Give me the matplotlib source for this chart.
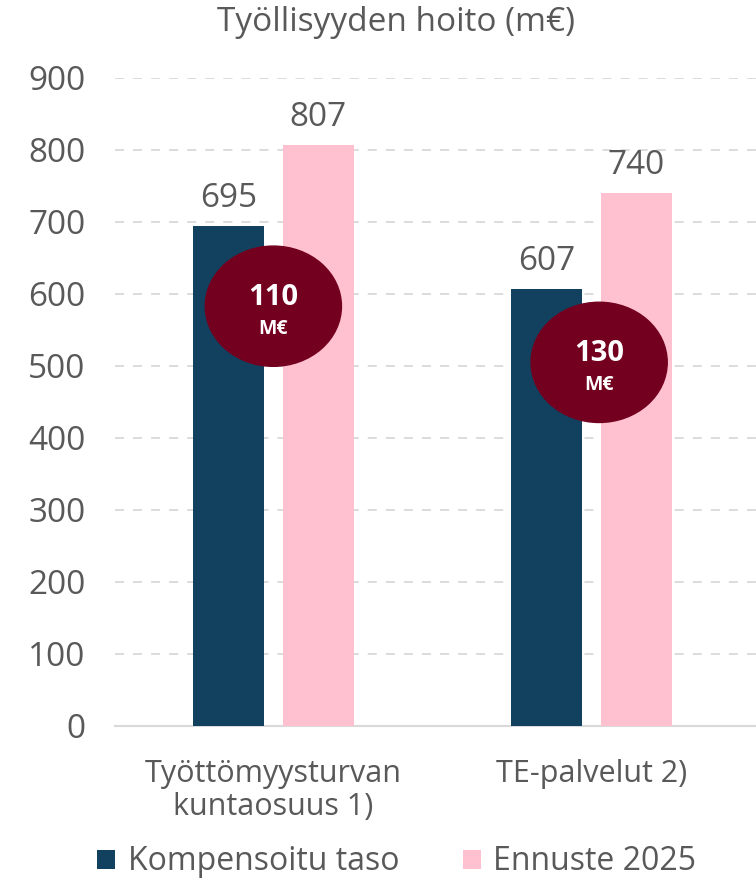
import matplotlib.pyplot as plt
from matplotlib.patches import Ellipse
import numpy as np

categories = ['Työttömyysturvan\nkuntaosuus 1)', 'TE-palvelut 2)']
kompensoitu = [695, 607]
ennuste = [807, 740]
series_names = ['Kompensoitu taso', 'Ennuste 2025']
bubble_values = ['110', '130']
bubble_centers = [(0.0, 583), (1.024, 505)]

dark = '#12405F'
pink = '#FFC0CF'
wine = '#74001F'
grey = '#595959'

plt.rcParams['font.family'] = ['Open Sans', 'DejaVu Sans']

fig = plt.figure(figsize=(7.56, 8.81), dpi=100)
ax = fig.add_axes([0.152, 0.176, 0.848, 0.7355])

x = np.arange(len(categories))
w = 0.223
off = 0.1415
b1 = ax.bar(x - off, kompensoitu, w, color=dark, label=series_names[0], zorder=3)
b2 = ax.bar(x + off, ennuste, w, color=pink, label=series_names[1], zorder=3)

for bars, vals in [(b1, kompensoitu), (b2, ennuste)]:
    for bar, v in zip(bars, vals):
        ax.text(bar.get_x() + bar.get_width() / 2, v + 15, str(v),
                ha='center', va='bottom', fontsize=24, color=grey)

# bubbles with the difference
for (cx, cy), txt in zip(bubble_centers, bubble_values):
    ax.add_patch(Ellipse((cx, cy), 0.428, 167, color=wine, zorder=4))
    ax.text(cx, cy + 12, txt, ha='center', va='center', fontsize=21,
            fontweight='bold', color='white', zorder=5)
    ax.text(cx, cy - 31, 'M€', ha='center', va='center', fontsize=14,
            fontweight='bold', color='white', zorder=5)

ax.set_ylim(0, 900)
ax.set_xlim(-0.498, 1.517)
ax.set_yticks(range(0, 901, 100))
ax.set_xticks(x)
ax.set_xticklabels(categories, fontsize=22, color=grey, linespacing=1.12)
ax.tick_params(axis='y', labelsize=24, labelcolor=grey, length=0, pad=21)
ax.tick_params(axis='x', length=0, pad=24)
ax.yaxis.grid(True, linestyle=(0, (5, 5)), color='#D9D9D9', linewidth=1.3, zorder=0)
for s in ['top', 'right', 'left']:
    ax.spines[s].set_visible(False)
ax.spines['bottom'].set_color('#D9D9D9')
ax.spines['bottom'].set_linewidth(1.5)

fig.text(0.524, 0.975, 'Työllisyyden hoito (m€)', ha='center', va='center',
         fontsize=24, color=grey)

fig.legend(loc='center', bbox_to_anchor=(0.525, 1 - 862 / 881), ncol=2, frameon=False,
           fontsize=23, labelcolor=grey, handlelength=0.55, handleheight=0.55,
           handletextpad=0.4, columnspacing=2.0)

fig.savefig('out.png', dpi=100)
